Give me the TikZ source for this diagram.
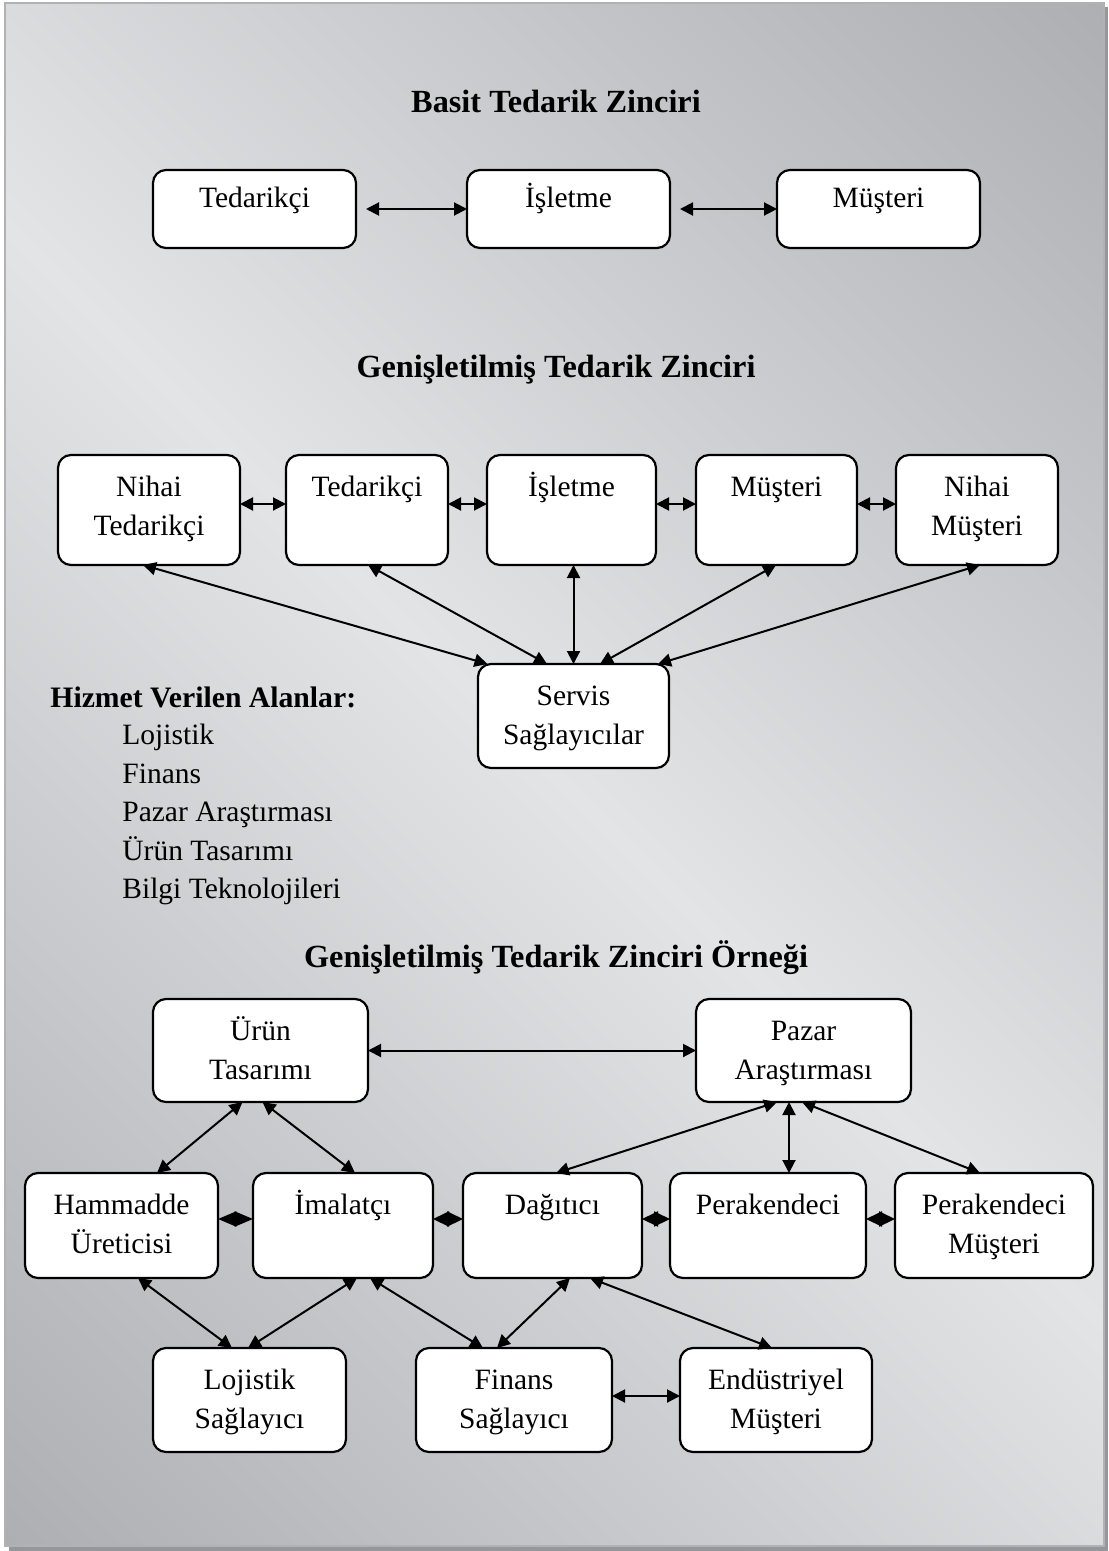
\documentclass[tikz,border=0pt]{standalone}
\usepackage{fontspec}
\setmainfont{Liberation Serif}
\usetikzlibrary{arrows.meta}

\definecolor{bgdark}{RGB}{173,175,179}
\definecolor{bglight}{RGB}{227,228,230}
\definecolor{framegray}{RGB}{178,178,180}
\definecolor{shadowgray}{RGB}{150,151,154}

% dark - light - dark band running across the panel diagonal
\pgfdeclarehorizontalshading{panelshade}{100bp}{color(0bp)=(bgdark); color(14.6bp)=(bgdark); color(50bp)=(bglight); color(85.4bp)=(bgdark); color(100bp)=(bgdark)}

% box text: width, height, top-to-baseline distance, lines
\newcommand\boxtxt[4]{\parbox[c][#2][t]{#1}{\centering\rule{0pt}{#3}#4}}

\tikzset{
  box/.style={draw, line width=1.1pt, rounded corners=6.5pt, fill=white, inner sep=0pt, outer sep=0pt},
  tipA/.tip={Triangle[length=6.5pt,width=6.5pt]},
  tipB/.tip={Triangle[length=8pt,width=7.5pt]},
  tipC/.tip={Triangle[length=9.2pt,width=7.5pt]},
  link/.style={line width=1pt, tipA-tipA},
  biglink/.style={line width=1pt, tipB-tipB},
  widelink/.style={line width=1pt, tipC-tipC},
  title/.style={anchor=base, inner sep=0pt, font=\fontsize{16.15pt}{19pt}\selectfont\bfseries},
  plain/.style={anchor=base west, inner sep=0pt},
}

\begin{document}
\begin{tikzpicture}[x=0.5pt, y=-0.5pt, font=\fontsize{14.75pt}{19.5pt}\selectfont]
\useasboundingbox (0,0) rectangle (1108,1551);

% panel with shadow
\fill[shadowgray] (9,7) rectangle (1108,1551);
\shade[shading=panelshade, shading angle=45] (5,3) rectangle (1104,1546);
\draw[framegray, line width=1pt] (5,3) rectangle (1104,1546);

% ---------- simple chain ----------
\node[title] (t1) at (556,112.5) {Basit Tedarik Zinciri};
\node[box] (s1) at (254.5,209) {\boxtxt{101.5pt}{39pt}{19pt}{Tedarikçi}};
\node[box] (s2) at (568.5,209) {\boxtxt{101.5pt}{39pt}{19pt}{İşletme}};
\node[box] (s3) at (878.5,209) {\boxtxt{101.5pt}{39pt}{19pt}{Müşteri}};
\draw[link, shorten <=5pt] (s1.east) -- (s2.west);
\draw[link, shorten <=5pt] (s2.east) -- (s3.west);

% ---------- extended chain ----------
\node[title] (t2) at (556,377.5) {Genişletilmiş Tedarik Zinciri};
\node[box] (nt) at (149,510)   {\boxtxt{91pt}{55pt}{20.75pt}{Nihai\\Tedarikçi}};
\node[box] (td) at (367,510)   {\boxtxt{81pt}{55pt}{20.75pt}{Tedarikçi}};
\node[box] (is) at (571.5,510) {\boxtxt{84.5pt}{55pt}{20.75pt}{İşletme}};
\node[box] (mu) at (776.5,510) {\boxtxt{80.5pt}{55pt}{20.75pt}{Müşteri}};
\node[box] (nm) at (977,510)   {\boxtxt{81pt}{55pt}{20.75pt}{Nihai\\Müşteri}};
\node[box] (srv) at (573.5,716) {\boxtxt{95.5pt}{52pt}{20.75pt}{Servis\\Sağlayıcılar}};

\draw[link] ([shift={(0,-6)}]nt.east) -- ([shift={(0,-6)}]td.west);
\draw[link] ([shift={(0,-6)}]td.east) -- ([shift={(0,-6)}]is.west);
\draw[link] ([shift={(0,-6)}]is.east) -- ([shift={(0,-6)}]mu.west);
\draw[link] ([shift={(0,-6)}]mu.east) -- ([shift={(0,-6)}]nm.west);

\draw[link] ([shift={(-86,0)}]srv.north) -- ([shift={(-6,0)}]nt.south);
\draw[link] ([shift={(-26.5,0)}]srv.north) -- ([shift={(1,0)}]td.south);
\draw[link] (srv.north) -- ([shift={(2,0)}]is.south);
\draw[link] ([shift={(26.5,0)}]srv.north) -- ([shift={(-0.5,0)}]mu.south);
\draw[link] ([shift={(84.5,0)}]srv.north) -- ([shift={(3,0)}]nm.south);

% served areas
\node[plain, font=\fontsize{14.85pt}{19.5pt}\selectfont\bfseries] (hz) at (50,707) {Hizmet Verilen Alanlar:};
\node[plain] (a1) at (122,744.5) {Lojistik};
\node[plain] (a2) at (122,783)   {Finans};
\node[plain] (a3) at (122,821.5) {Pazar Araştırması};
\node[plain] (a4) at (122,860)   {Ürün Tasarımı};
\node[plain] (a5) at (122,898.5) {Bilgi Teknolojileri};

% ---------- example ----------
\node[title] (t3) at (556,967.5) {Genişletilmiş Tedarik Zinciri Örneği};
\node[box] (ur) at (260.5,1050.5) {\boxtxt{107.5pt}{51.5pt}{20.75pt}{Ürün\\Tasarımı}};
\node[box] (pz) at (803.5,1050.5) {\boxtxt{107.5pt}{51.5pt}{20.75pt}{Pazar\\Araştırması}};

\node[box] (hm) at (121.5,1225.5) {\boxtxt{96.5pt}{52.5pt}{20.75pt}{Hammadde\\Üreticisi}};
\node[box] (im) at (343,1225.5)   {\boxtxt{90pt}{52.5pt}{20.75pt}{İmalatçı}};
\node[box] (dg) at (552.5,1225.5) {\boxtxt{89.5pt}{52.5pt}{20.75pt}{Dağıtıcı}};
\node[box] (pk) at (768,1225.5)   {\boxtxt{98pt}{52.5pt}{20.75pt}{Perakendeci}};
\node[box] (pm) at (994,1225.5)   {\boxtxt{99pt}{52.5pt}{20.75pt}{Perakendeci\\Müşteri}};

\node[box] (lj) at (249.5,1400) {\boxtxt{96.5pt}{52pt}{20.75pt}{Lojistik\\Sağlayıcı}};
\node[box] (fn) at (514,1400)   {\boxtxt{98pt}{52pt}{20.75pt}{Finans\\Sağlayıcı}};
\node[box] (en) at (776,1400)   {\boxtxt{96pt}{52pt}{20.75pt}{Endüstriyel\\Müşteri}};

\draw[link] (ur.east) -- (pz.west);
\draw[link] ([shift={(-18,0)}]ur.south) -- ([shift={(35.5,0)}]hm.north);
\draw[link] ([shift={(2,0)}]ur.south) -- ([shift={(12,0)}]im.north);
\draw[link] ([shift={(-26.5,0)}]pz.south) -- ([shift={(3.5,0)}]dg.north);
\draw[link] ([shift={(-14.5,0)}]pz.south) -- ([shift={(21,0)}]pk.north);
\draw[link] ([shift={(-1.5,0)}]pz.south) -- ([shift={(-14,0)}]pm.north);

\draw[widelink] ([shift={(0,-6.5)}]hm.east) -- ([shift={(0,-6.5)}]im.west);
\draw[biglink] ([shift={(0,-6.5)}]im.east) -- ([shift={(0,-6.5)}]dg.west);
\draw[biglink] ([shift={(0,-6.5)}]dg.east) -- ([shift={(0,-6.5)}]pk.west);
\draw[biglink] ([shift={(0,-6.5)}]pk.east) -- ([shift={(0,-6.5)}]pm.west);

\draw[link] ([shift={(16.5,0)}]hm.south) -- ([shift={(-17.5,0)}]lj.north);
\draw[link] ([shift={(14,0)}]im.south) -- ([shift={(-1.5,0)}]lj.north);
\draw[link] ([shift={(27,0)}]im.south) -- ([shift={(-31,0)}]fn.north);
\draw[link] ([shift={(17.5,0)}]dg.south) -- ([shift={(-17,0)}]fn.north);
\draw[link] ([shift={(37.5,0)}]dg.south) -- ([shift={(-4,0)}]en.north);
\draw[link] ([shift={(0,-4)}]fn.east) -- ([shift={(0,-4)}]en.west);
\end{tikzpicture}
\end{document}
